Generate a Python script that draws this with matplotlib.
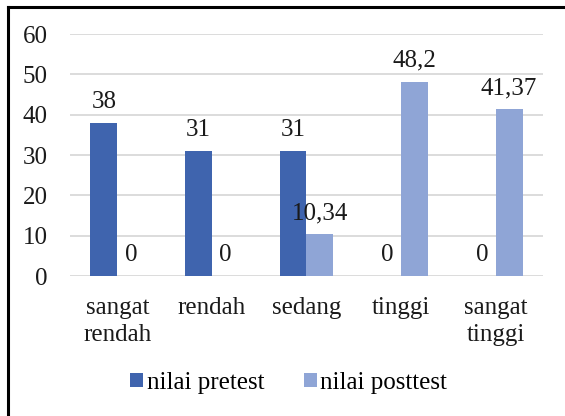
import matplotlib.pyplot as plt
import numpy as np
from matplotlib.lines import Line2D

categories = ['sangat\nrendah', 'rendah', 'sedang', 'tinggi', 'sangat\ntinggi']
pretest = [38, 31, 31, 0, 0]
posttest = [0, 0, 10.34, 48.2, 41.37]
pre_labels = ['38', '31', '31', '0', '0']
post_labels = ['0', '0', '10,34', '48,2', '41,37']

dark = '#3F64AE'
light = '#8FA5D6'

plt.rcParams['font.family'] = ['Liberation Serif', 'DejaVu Serif']
fs = 18

fig = plt.figure(figsize=(5.65, 4.16), dpi=100)
ax = fig.add_axes([0.1239, 0.3365, 0.837, 0.5817])

x = np.arange(len(categories))
w = 0.285
b1 = ax.bar(x - w / 2, pretest, w, color=dark, zorder=3)
b2 = ax.bar(x + w / 2, posttest, w, color=light, zorder=3)

for bars, labs in [(b1, pre_labels), (b2, post_labels)]:
    for bar, lab in zip(bars, labs):
        ax.annotate(lab, (bar.get_x() + bar.get_width() / 2, bar.get_height()),
                    xytext=(0, 7), textcoords='offset points',
                    ha='center', va='bottom', fontsize=fs, color='#1a1a1a', zorder=4)

ax.set_xlim(-0.5, len(categories) - 0.5)
ax.set_ylim(0, 60)
ax.set_yticks(range(0, 61, 10))
ax.yaxis.grid(True, color='#D9D9D9', linewidth=1.3, zorder=0)
ax.set_axisbelow(True)
for s in ax.spines.values():
    s.set_visible(False)
ax.tick_params(axis='both', length=0, labelsize=fs, colors='#1a1a1a')
ax.tick_params(axis='y', pad=16)
ax.tick_params(axis='x', pad=15)
ax.set_xticks(x)
ax.set_xticklabels(categories, linespacing=1.3)

ax.legend([b1, b2], ['nilai pretest', 'nilai posttest'], loc='center',
          bbox_to_anchor=(0.511, 0.079), bbox_transform=fig.transFigure, ncol=2,
          frameon=False, fontsize=fs, handlelength=0.5, handleheight=0.5,
          handletextpad=0.15, columnspacing=1.6)

# border (top and left only, cropped picture)
fig.add_artist(Line2D([0.0142, 0.0142], [0, 0.9835], color='black', linewidth=2.2,
                      transform=fig.transFigure))
fig.add_artist(Line2D([0.0142, 1.0], [0.9835, 0.9835], color='black', linewidth=2.2,
                      transform=fig.transFigure))

fig.savefig('out.png', dpi=100)
